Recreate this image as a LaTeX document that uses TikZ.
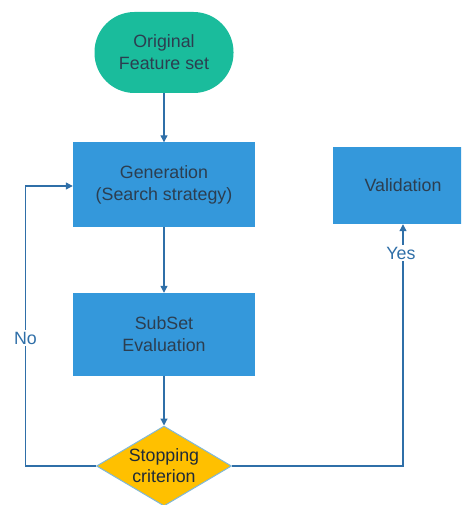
\documentclass[tikz,border=0pt]{standalone}
\usepackage{fontspec}
\setmainfont{Liberation Sans}
\usetikzlibrary{arrows.meta,shapes.geometric}
\definecolor{teal1}{HTML}{1ABC9C}
\definecolor{blue1}{HTML}{3498DB}
\definecolor{gold1}{HTML}{FFC000}
\definecolor{line1}{HTML}{2F6FA8}
\definecolor{txt1}{HTML}{2C3E50}
\definecolor{dborder}{HTML}{7FB8DA}
\tikzset{
  box/.style={fill=blue1, draw=none, minimum width=182pt, minimum height=84pt, inner sep=0pt, text=txt1, align=center, font=\fontsize{17.8}{22}\selectfont},
  conn/.style={draw=line1, line width=1.2pt, -{Triangle[length=7pt,width=7pt]}},
  lbl/.style={fill=white, text=line1, inner sep=1.5pt, font=\fontsize{17.8}{20}\selectfont}
}
\begin{document}
\begin{tikzpicture}[x=1pt,y=-1pt]
\useasboundingbox (0,0) rectangle (461,505);
\clip (0,0) rectangle (461,505);
\node[fill=teal1, rounded corners=40pt, minimum width=139pt, minimum height=81pt, inner sep=0pt, text=txt1, align=center, font=\fontsize{17.8}{22}\selectfont] (orig) at (164,52.5) {Original\\Feature set};
\node[box] (gen) at (164,184.5) {Generation\\(Search strategy)};
\node[box, minimum width=140pt, minimum height=77pt] (val) at (403,185.5) {Validation};
\node[box, minimum height=83pt] (sub) at (164,334.5) {SubSet\\Evaluation};
\node[diamond, fill=gold1, draw=dborder, line width=1pt, minimum width=135pt, minimum height=80pt, inner sep=0pt] (stop) at (164,466) {};
\node[text=txt1!70!black, align=center, font=\fontsize{17.8}{21}\selectfont] (stoptxt) at (stop.center) {Stopping\\criterion};
\coordinate (nl) at (25.5,466);
\coordinate (nu) at (25.5,186);
\coordinate (yr) at (403,466);
\draw[conn] (orig) -- (gen);
\draw[conn] (gen) -- (sub);
\draw[conn] (sub) -- (stop);
\draw[conn] (stop.west) -- (nl) -- (nu) -- (gen.west |- nu);
\draw[conn] (stop.east) -- (yr) -- (val.south);
\node[lbl] (no) at (25.5,338) {No};
\node[lbl] (yes) at (401,253) {Yes};
\end{tikzpicture}
\end{document}
